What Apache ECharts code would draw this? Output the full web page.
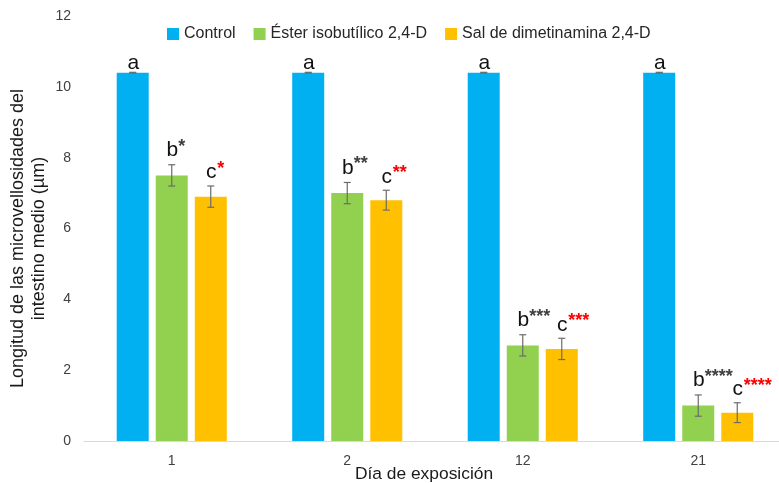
<!DOCTYPE html>
<html>
<head>
<meta charset="utf-8">
<script src="https://cdn.jsdelivr.net/npm/echarts@6/dist/echarts.min.js"></script>
<style>
  html, body { margin: 0; padding: 0; background: #fff; overflow: hidden; }
  /* the plot area runs slightly past the right edge of the window */
  #chart { width: 786px; height: 483px; }
</style>
</head>
<body>
<div id="chart"></div>
<script>
// Day of exposure (categories)
const days = ['1', '2', '12', '21'];

// Series names
const seriesNames = ['Control', 'Éster isobutílico 2,4-D', 'Sal de dimetinamina 2,4-D'];

// Mean microvilli length (µm)
const controlValues = [10.4, 10.4, 10.4, 10.4];
const esterValues = [7.5, 7.0, 2.7, 1.0];
const salValues = [6.9, 6.8, 2.6, 0.8];

// Error (± µm)
const controlErrors = [0.01, 0.01, 0.01, 0.01];
const esterErrors = [0.3, 0.3, 0.3, 0.3];
const salErrors = [0.3, 0.28, 0.3, 0.28];

// Significance letters and asterisks
const controlLetters = ['a', 'a', 'a', 'a'];
const esterLetters = ['b', 'b', 'b', 'b'];
const salLetters = ['c', 'c', 'c', 'c'];
const controlStars = ['', '', '', ''];
const esterStars = ['*', '**', '***', '****'];
const salStars = ['*', '**', '***', '****'];

// Y axis ticks
const yMin = 0, yMax = 12, yStep = 2;

const colors = ['#00B0F0', '#92D050', '#FFC000'];
const starColors = ['#404040', '#404040', '#FF0000'];
const FONT = '"Liberation Sans", Arial, sans-serif';
const BAR_W = 32;
const BAR_STEP = 39; // bar width + gap between bars in a group

function barSeries(name, values, color) {
  return {
    name: name,
    type: 'bar',
    data: values,
    barWidth: BAR_W,
    barGap: '22%',
    itemStyle: { color: color },
    z: 2
  };
}

// Error whiskers plus the significance letter and asterisks on top
function annotSeries(idx, values, errors, letters, stars, labelGap) {
  const offset = (idx - 1) * BAR_STEP;
  return {
    type: 'custom',
    name: seriesNames[idx] + ' err',
    z: 5,
    silent: true,
    data: values.map((v, i) => [i, v, errors[i]]),
    encode: { x: 0, y: 1 },
    renderItem: function (params, api) {
      const cat = api.value(0);
      const v = api.value(1);
      const e = api.value(2);
      const letter = letters[params.dataIndex];
      const star = stars[params.dataIndex];
      const hi = api.coord([cat, v + e]);
      const lo = api.coord([cat, v - e]);
      const x = hi[0] + offset;
      const cap = 3.5;
      const lineStyle = { stroke: '#6b6b6b', lineWidth: 1.2 };
      const children = [
        { type: 'line', shape: { x1: x, y1: hi[1], x2: x, y2: lo[1] }, style: lineStyle },
        { type: 'line', shape: { x1: x - cap, y1: hi[1], x2: x + cap, y2: hi[1] }, style: lineStyle },
        { type: 'line', shape: { x1: x - cap, y1: lo[1], x2: x + cap, y2: lo[1] }, style: lineStyle }
      ];
      const baseY = hi[1] - labelGap;
      children.push({
        type: 'text',
        x: x + 0.5,
        y: baseY,
        style: {
          text: letter,
          fill: '#111',
          font: '21px ' + FONT,
          align: 'center',
          verticalAlign: 'bottom'
        }
      });
      if (star) {
        children.push({
          type: 'text',
          x: x + 6.5,
          y: baseY - 14,
          style: {
            text: star,
            fill: starColors[idx],
            font: 'bold 18px ' + FONT,
            align: 'left',
            verticalAlign: 'middle'
          }
        });
      }
      return { type: 'group', children: children };
    }
  };
}

const chart = echarts.init(document.getElementById('chart'), null, { renderer: 'canvas' });

chart.setOption({
  animation: false,
  backgroundColor: '#ffffff',
  color: colors,
  textStyle: { fontFamily: FONT },
  legend: {
    data: seriesNames,
    left: 162,
    top: 21,
    itemWidth: 12,
    itemHeight: 12,
    itemGap: 18,
    icon: 'rect',
    textStyle: { fontSize: 16, color: '#262626', fontFamily: FONT }
  },
  grid: { left: 84, right: 0, top: 16, bottom: 42, containLabel: false },
  xAxis: {
    type: 'category',
    data: days,
    axisLine: { lineStyle: { color: '#D9D9D9', width: 1 } },
    axisTick: { show: false },
    axisLabel: { fontSize: 14, color: '#404040', margin: 13, fontFamily: FONT },
    splitLine: { show: false }
  },
  yAxis: {
    type: 'value',
    min: yMin,
    max: yMax,
    interval: yStep,
    axisLine: { show: false },
    axisTick: { show: false },
    splitLine: { show: false },
    axisLabel: { fontSize: 14, color: '#404040', margin: 13, fontFamily: FONT }
  },
  graphic: [
    {
      type: 'text',
      x: 424,
      y: 474,
      style: {
        text: 'Día de exposición',
        font: '17.4px ' + FONT,
        fill: '#1a1a1a',
        align: 'center',
        verticalAlign: 'middle'
      }
    },
    {
      type: 'text',
      x: 28.5,
      y: 238.5,
      rotation: Math.PI / 2,
      style: {
        text: 'Longitud de las microvellosidades del\nintestino medio (µm)',
        font: '18px ' + FONT,
        fill: '#1a1a1a',
        align: 'center',
        verticalAlign: 'middle',
        lineHeight: 21
      }
    }
  ],
  series: [
    barSeries(seriesNames[0], controlValues, colors[0]),
    barSeries(seriesNames[1], esterValues, colors[1]),
    barSeries(seriesNames[2], salValues, colors[2]),
    annotSeries(0, controlValues, controlErrors, controlLetters, controlStars, -1),
    annotSeries(1, esterValues, esterErrors, esterLetters, esterStars, 4),
    annotSeries(2, salValues, salErrors, salLetters, salStars, 3)
  ]
});
</script>
</body>
</html>
